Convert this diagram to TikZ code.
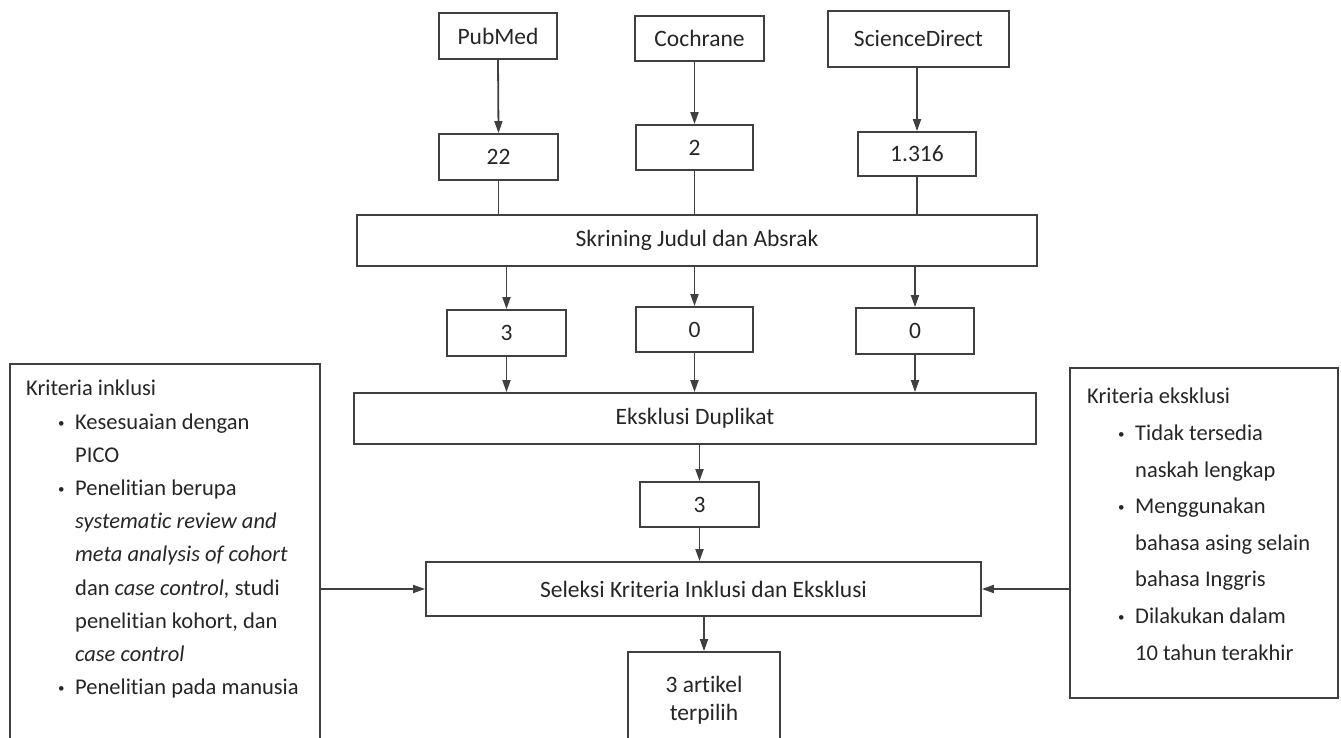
\documentclass[tikz,border=0pt]{standalone}
\usepackage{fontspec}
\setmainfont{Carlito}[Ligatures={NoCommon}]
\usepackage{tikz}
\usetikzlibrary{arrows.meta}

\newcommand{\blt}{\makebox[17pt][l]{\raisebox{2pt}{\fontsize{13}{13}\selectfont\textbullet}}}

\begin{document}
\begin{tikzpicture}[x=1pt, y=-1pt,
        box/.style={draw=black!75, line width=1.8pt, fill=white, inner sep=0pt, text=black!85, font=\fontsize{23.5}{28}\selectfont},
        arr/.style={draw=black!75, line width=1.8pt, -{Triangle[length=12pt, width=8pt]}},
        ln/.style={draw=black!75, line width=1.8pt},
        listtext/.style={anchor=north west, inner sep=0pt, align=left, text=black!85}]
        \useasboundingbox (0,0) rectangle (1341,738);
        \clip (0,0) rectangle (1341,738);
        \fill[white] (0,0) rectangle (1341,738);

        % sources
        \node[box, minimum width=118pt, minimum height=46pt] (pubmed) at (498, 36) {PubMed};
        \node[box, minimum width=129pt, minimum height=45pt] (cochrane) at (699.5, 38.5) {Cochrane};
        \node[box, minimum width=181pt, minimum height=56pt] (sciencedirect) at (918.5, 39) {ScienceDirect};

        \node[box, minimum width=119pt, minimum height=46pt] (n22) at (498.5, 157) {22};
        \node[box, minimum width=117pt, minimum height=45pt] (n2) at (694.5, 147.5) {2};
        \node[box, minimum width=118pt, minimum height=44pt] (n1316) at (917, 154) {1.316};

        \node[box, minimum width=680pt, minimum height=51pt] (skrining) at (697, 240.5) {Skrining Judul dan Absrak};

        \node[box, minimum width=119pt, minimum height=46pt] (n3a) at (506.5, 333) {3};
        \node[box, minimum width=117pt, minimum height=45pt] (n0a) at (694.5, 329.5) {0};
        \node[box, minimum width=118pt, minimum height=46pt] (n0b) at (915, 331) {0};

        \node[box, minimum width=682pt, minimum height=51pt] (duplikat) at (695, 418.5) {Eksklusi Duplikat};
        \node[box, minimum width=119pt, minimum height=45pt] (n3b) at (699.5, 504.5) {3};
        \node[box, minimum width=555pt, minimum height=54pt] (seleksi) at (703.5, 589) {Seleksi Kriteria Inklusi dan Eksklusi};
        \node[box, minimum width=152pt, minimum height=96pt, align=center] (final) at (704, 700) {3 artikel\\terpilih};

        % criteria
        \node[box, minimum width=310pt, minimum height=390pt] (inklusi) at (165, 559) {};
        \node[box, minimum width=268pt, minimum height=330pt] (eksklusi) at (1204, 533) {};

        \node[listtext, font=\fontsize{22.5}{33.2}\selectfont] (inklusiText) at (26, 380) {Kriteria inklusi\\
            \hspace*{32pt}\blt Kesesuaian dengan\\
            \hspace*{49pt}PICO\\
            \hspace*{32pt}\blt Penelitian berupa\\
            \hspace*{49pt}\textit{systematic review and}\\
            \hspace*{49pt}\textit{meta analysis of cohort}\\
            \hspace*{49pt}dan \textit{case control,} studi\\
            \hspace*{49pt}penelitian kohort, dan\\
            \hspace*{49pt}\textit{case control}\\
            \hspace*{32pt}\blt Penelitian pada manusia};

        \node[listtext, font=\fontsize{22.5}{36.6}\selectfont] (eksklusiText) at (1087, 388) {Kriteria eksklusi\\
            \hspace*{31pt}\blt Tidak tersedia\\
            \hspace*{48pt}naskah lengkap\\
            \hspace*{31pt}\blt Menggunakan\\
            \hspace*{48pt}bahasa asing selain\\
            \hspace*{48pt}bahasa Inggris\\
            \hspace*{31pt}\blt Dilakukan dalam\\
            \hspace*{48pt}10 tahun terakhir};

        % connectors
        \draw[arr] (pubmed.south) -- (n22.north);
        \draw[arr] (n2.north |- cochrane.south) -- (n2.north);
        \draw[arr] (n1316.north |- sciencedirect.south) -- (n1316.north);

        \draw[ln] (n22.south) -- (n22.south |- skrining.north);
        \draw[ln] (n2.south) -- (n2.south |- skrining.north);
        \draw[ln] (n1316.south) -- (n1316.south |- skrining.north);

        \draw[arr] (n3a.north |- skrining.south) -- (n3a.north);
        \draw[arr] (n0a.north |- skrining.south) -- (n0a.north);
        \draw[arr] (n0b.north |- skrining.south) -- (n0b.north);

        \draw[arr] (n3a.south) -- (n3a.south |- duplikat.north);
        \draw[arr] (n0a.south) -- (n0a.south |- duplikat.north);
        \draw[arr] (n0b.south) -- (n0b.south |- duplikat.north);

        \draw[arr] (n3b.north |- duplikat.south) -- (n3b.north);
        \draw[arr] (n3b.south) -- (n3b.south |- seleksi.north);
        \draw[arr] (final.north |- seleksi.south) -- (final.north);

        \draw[arr] (inklusi.east |- seleksi.west) -- (seleksi.west);
        \draw[arr] (eksklusi.west |- seleksi.east) -- (seleksi.east);
    \end{tikzpicture}
\end{document}
